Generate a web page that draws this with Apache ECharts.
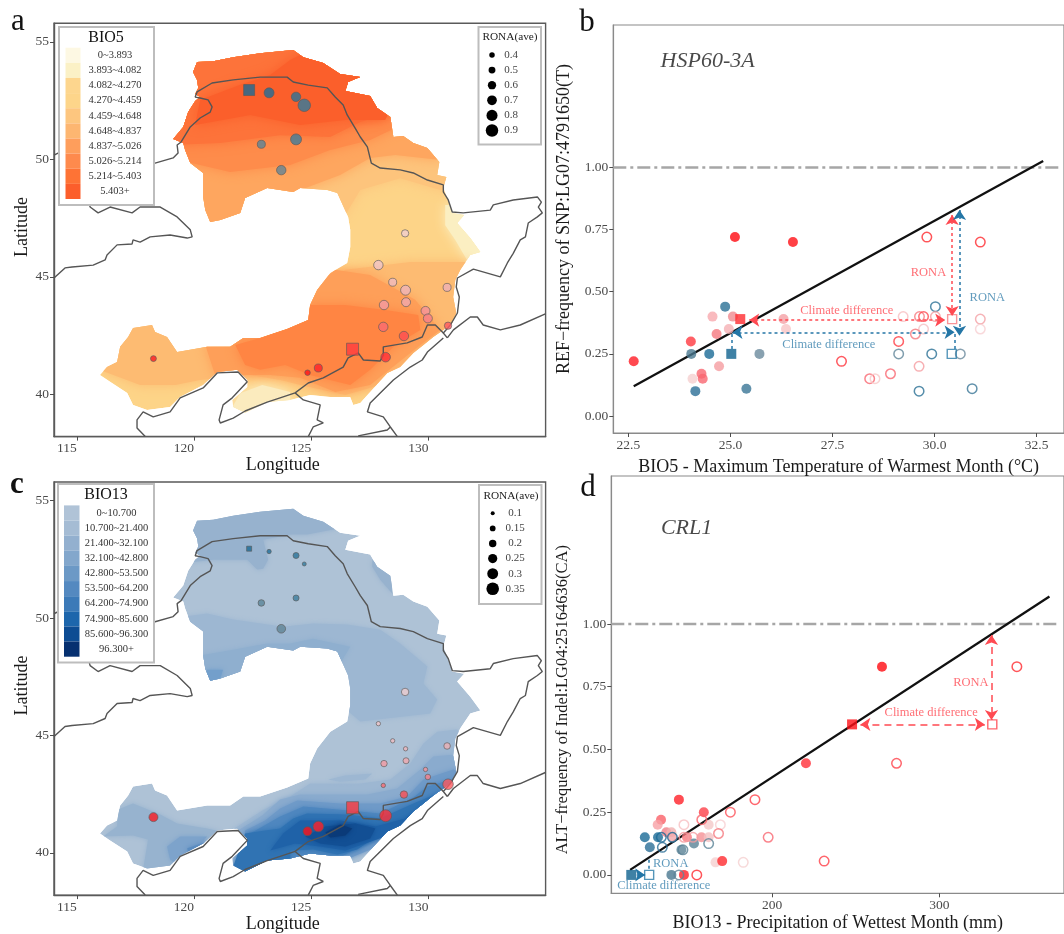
<!DOCTYPE html>
<html><head><meta charset="utf-8">
<style>html,body{margin:0;padding:0;background:#fff}#c{width:1064px;height:934px}</style>
<script src="https://cdn.jsdelivr.net/npm/echarts@6/dist/echarts.min.js"></script>
</head><body><div id="c"></div>
<script>
// ---------- MAP GEOMETRY (lon, lat) ----------
const regionOutline=[[120.13,54.14],[120.82,54.18],[121.67,54.35],[122.82,54.52],[124.23,54.65],[124.66,54.35],[125.51,54.10],[126.23,53.63],[127.09,53.50],[126.87,53.42],[126.57,53.29],[126.45,52.91],[127.51,52.70],[127.81,52.18],[128.37,51.80],[128.50,50.95],[128.92,50.99],[129.35,50.70],[129.95,50.48],[130.46,49.89],[130.37,49.33],[130.76,49.25],[130.63,48.78],[130.84,48.27],[131.01,47.72],[131.52,47.63],[131.22,47.29],[131.78,46.65],[132.21,46.06],[131.78,45.93],[131.35,45.29],[131.14,44.87],[131.05,44.14],[131.18,43.46],[131.01,43.04],[130.63,42.74],[130.20,42.44],[129.78,42.10],[129.35,41.76],[128.79,41.16],[128.24,40.91],[127.85,40.48],[127.09,39.63],[126.79,39.55],[126.66,39.89],[125.81,39.89],[124.95,39.97],[124.10,39.76],[123.12,39.67],[122.18,39.21],[121.67,39.46],[121.63,39.76],[122.27,40.31],[122.27,40.61],[121.84,41.04],[120.99,40.95],[120.39,40.40],[119.41,39.89],[118.98,39.46],[118.0,39.33],[117.40,39.55],[117.15,40.06],[116.42,40.53],[115.99,40.82],[116.29,41.16],[116.72,41.38],[116.85,42.02],[117.19,42.44],[117.40,42.82],[118.21,42.95],[118.34,42.65],[118.85,42.44],[119.28,41.80],[120.56,42.02],[121.54,42.02],[122.10,42.40],[122.82,42.40],[123.97,42.78],[124.87,43.16],[124.95,43.80],[125.25,44.44],[125.81,45.16],[126.53,45.59],[126.66,46.27],[126.66,47.0],[126.57,47.55],[126.11,48.57],[125.68,48.70],[124.53,48.78],[124.23,48.61],[123.12,48.78],[122.18,48.35],[121.97,47.72],[121.12,47.42],[120.69,47.33],[120.48,47.84],[120.39,48.40],[120.39,49.42],[119.84,49.84],[119.62,50.40],[119.54,50.70],[119.11,50.87],[119.54,51.38],[119.75,52.01],[120.05,52.48],[120.26,52.65],[120.05,52.78],[120.18,53.04],[120.13,53.38],[119.96,53.72]];
const borderNorth=[[114.03,50.18],[114.29,50.31],[115.99,50.06],[118.34,49.84],[119.11,50.06],[119.32,50.27],[119.28,50.61],[119.45,50.74],[119.84,51.38],[120.26,51.76],[120.69,52.01],[120.77,52.23],[120.60,52.53],[120.26,52.61],[120.05,52.65],[120.13,52.87],[120.77,53.25],[121.67,53.38],[122.82,53.50],[123.97,53.50],[124.23,53.29],[124.87,53.16],[125.68,53.04],[126.02,52.65],[126.36,52.31],[126.53,51.89],[126.87,51.33],[127.09,50.95],[127.39,50.53],[127.56,49.84],[127.94,49.63],[128.79,49.55],[129.35,49.42],[129.95,49.12],[130.63,48.91],[130.63,48.61],[130.84,48.27],[131.01,47.76],[131.48,47.72],[132.63,47.84],[132.76,48.06],[133.61,48.27],[134.64,48.40],[134.81,48.18],[134.68,47.97],[134.85,47.72],[134.64,47.55],[134.25,47.29],[134.13,46.70],[133.91,46.57],[133.61,46.0],[133.36,45.59],[133.06,45.0],[131.91,45.33],[131.23,44.95],[131.18,44.57],[131.31,44.14],[131.23,43.46],[130.93,42.95],[130.63,42.61],[130.80,42.40]];
const coastRussia=[[130.80,42.40],[131.06,42.74],[131.78,43.29],[132.08,43.29],[132.33,42.95],[133.06,42.74],[133.91,42.95],[134.98,43.42]];
const borderKorea=[[130.63,42.61],[130.29,42.95],[129.95,42.95],[129.73,42.44],[129.09,42.19],[128.07,42.02],[128.07,41.67],[127.94,41.42],[127.22,41.46],[127.0,41.76],[126.57,41.55],[126.36,41.16],[125.51,40.70],[124.87,40.48],[124.31,40.06]];
const coastBohai=[[124.31,40.06],[123.67,39.85],[123.12,39.67],[122.18,39.29],[121.67,38.99],[121.12,38.78],[121.07,38.91],[121.24,39.55],[121.63,39.85],[122.27,40.53],[121.88,40.95],[120.99,40.91],[120.39,40.27],[119.41,39.85],[118.98,39.25],[118.26,39.04],[117.83,39.25],[117.57,38.91],[117.57,38.57],[117.92,38.2]];
const coastKoreaEast=[[130.63,42.40],[129.95,41.80],[129.73,41.46],[129.22,41.16],[128.50,40.61],[127.94,40.06],[127.51,39.63],[127.39,39.25],[128.07,39.04],[128.37,38.61],[128.67,38.2]];
const coastKoreaWest=[[124.31,40.06],[124.66,39.76],[125.38,39.55],[125.25,38.91],[125.51,38.78],[125.08,38.61],[124.87,38.2]];
const borderKoreaSouth=[[127.0,38.23],[128.24,38.48],[128.37,38.61]];
const borderWest=[[115.4,48.6],[115.57,47.97],[115.91,47.72],[116.42,47.97],[117.36,47.72],[117.70,47.97],[118.56,47.97],[119.28,47.55],[119.84,47.0],[119.92,46.70],[119.71,46.65],[118.98,46.78],[118.13,46.70],[117.70,46.48],[117.40,46.57],[117.36,46.40],[116.72,46.36],[116.29,45.93],[116.21,45.72],[115.70,45.50],[114.80,45.42],[114.50,45.38],[114.03,44.95]];

// ---------- BIO5 BANDS ----------
const bio5Base=regionOutline;
const bio5NorthA=[[118.98,46.57],[122.82,46.57],[126.45,47.64],[127.09,48.7],[128.79,49.2],[130.5,48.7],[132.21,48.7],[132.21,55.93],[118.98,55.93]];
const bio5NorthB=[[118.98,46.57],[122.4,46.57],[124.53,48.7],[126.23,49.33],[127.51,50.06],[128.58,50.19],[130.5,49.97],[130.5,55.93],[118.98,55.93]];
const bio5NorthC=[[118.98,50.06],[121.54,49.46],[124.1,49.76],[125.81,50.4],[127.51,50.82],[128.58,51.33],[129.65,51.67],[129.65,55.93],[118.98,55.93]];
const bio5NorthD=[[118.98,50.61],[121.12,50.7],[123.67,51.03],[125.81,50.95],[127.09,51.59],[128.79,52.1],[128.79,55.93],[118.98,55.93]];
const bio5NorthE=[[120.05,51.46],[122.4,51.89],[124.53,51.46],[126.45,51.67],[128.15,51.67],[128.58,52.53],[126.66,53.8],[124.95,54.65],[124.1,54.23],[123.25,53.59],[121.97,53.17],[120.26,52.53]];
const bio5SouthA=[[115.57,43.16],[124.53,43.16],[124.95,44.44],[126.45,45.3],[129.22,45.63],[131.78,45.63],[131.78,44.02],[131.14,42.74],[129.65,41.89],[127.94,40.4],[126.45,39.97],[124.53,40.4],[123.67,40.61],[122.4,40.82],[120.26,40.61],[119.2,40.4],[117.7,40.4],[115.99,41.04]];
const bio5SouthB=[[120.48,42.1],[124.74,43.16],[124.95,44.44],[126.02,45.3],[127.51,45.08],[129.43,44.02],[130.5,42.74],[129.65,42.1],[128.58,41.25],[127.51,40.4],[126.02,40.1],[124.53,40.7],[123.25,40.82],[122.18,40.82],[120.9,40.82]];
const bio5SouthC=[[121.76,42.1],[122.82,42.4],[124.74,43.16],[124.95,43.8],[126.45,43.8],[128.15,43.59],[129.56,43.38],[129.65,42.74],[128.58,42.1],[127.51,41.04],[126.66,40.4],[124.95,40.82],[123.89,41.25],[122.82,41.04],[122.18,41.25]];
const bio5PaleNE=[[130.71,48.06],[132.63,48.06],[132.63,45.5],[131.69,45.63],[131.14,46.57],[130.71,47.2]];
const bio5PaleS=[[121.33,38.91],[121.97,40.05],[122.91,40.4],[124.1,40.1],[124.1,38.91]];
const bio5Zones=[[bio5Base,'#FDD488'],[bio5NorthA,'#FDC47C'],[bio5NorthB,'#FEA65F'],[bio5NorthC,'#FE8C4B'],[bio5NorthD,'#FD733A'],[bio5NorthE,'#FB5F2B'],[bio5PaleNE,'#FBEFC2'],[bio5SouthA,'#FDBB72'],[bio5SouthB,'#FE9F59'],[bio5SouthC,'#FF8543'],[bio5PaleS,'#FBEBBE']];

// ---------- BIO13 BANDS ----------
const bio13North=[[118.77,51.04],[119.41,52.32],[120.82,52.48],[122.27,52.48],[122.69,52.06],[122.95,52.1],[123.16,52.48],[122.95,53.33],[124.1,53.55],[124.82,53.55],[126.11,53.8],[126.53,55.08],[118.77,55.08]];
const bio13East=[[127.6,52.48],[128.45,51.76],[128.45,51.04],[127.94,51.63],[127.6,52.18]];
const bio13Mid=[[118.98,49.76],[119.62,50.06],[120.56,50.19],[121.67,49.93],[123.8,49.63],[125.08,49.76],[126.53,49.72],[127.94,49.5],[128.79,48.91],[129.95,47.93],[129.78,47.21],[130.37,46.53],[130.07,45.93],[127.09,45.59],[126.45,46.14],[126.45,46.78],[118.98,46.78]];
const bio13Mid2=[[120.26,48.4],[121.67,48.65],[123.12,48.91],[124.1,48.91],[125.08,49.12],[126.66,48.78],[126.23,48.06],[124.53,48.27],[122.4,48.27],[121.97,46.99],[120.26,46.99]];
const bio13Lobe=[[120.56,47.8],[121.24,47.8],[121.12,47.42],[120.69,47.21],[120.26,47.21]];
const bio13W1=[[116.76,41.85],[117.4,42.1],[118.56,41.63],[119.28,41.25],[120.56,41.04],[121.12,40.91],[118.98,39.3],[117.83,39.3],[118.04,40.57],[117.4,40.74],[116.12,40.7],[116.72,41.12]];
const bio13W2=[[118.85,40.27],[119.41,40.7],[120.56,40.7],[119.41,39.42],[118.98,39.72]];
const bio13W3=[[119.71,40.19],[120.56,40.48],[120.9,40.48],[119.84,39.67]];
const bio13C1=[[121.67,41.0],[122.91,41.8],[124.1,42.4],[124.95,42.95],[127.09,42.95],[128.37,43.12],[129.22,43.8],[129.78,44.65],[130.37,45.16],[131.22,45.25],[131.78,44.44],[131.78,42.1],[124.53,38.91],[121.67,38.91]];
const bio13C2=[[121.88,40.95],[122.91,41.59],[123.67,42.27],[124.53,42.48],[125.51,42.48],[127.39,42.48],[128.66,42.74],[129.65,43.55],[130.2,44.1],[131.01,44.18],[131.78,43.59],[131.78,42.1],[124.53,38.91],[121.88,38.91]];
const bio13C3=[[122.18,40.95],[123.03,41.38],[123.67,41.89],[124.4,42.23],[126.23,42.1],[127.94,42.1],[129.09,42.4],[129.78,43.12],[131.06,43.55],[131.78,43.16],[131.78,41.89],[124.53,38.91],[122.18,38.91]];
const bio13C4=[[122.4,40.82],[123.67,41.55],[124.66,41.97],[126.11,41.85],[127.94,41.67],[129.35,42.36],[129.95,42.82],[131.14,43.16],[131.78,42.74],[124.53,38.91],[122.4,38.91]];
const bio13C5=[[121.33,38.48],[122.18,40.82],[123.03,40.95],[123.67,41.04],[124.23,41.46],[124.82,41.67],[126.53,41.63],[127.94,41.46],[129.35,42.1],[130.37,42.53],[130.93,42.69],[130.5,42.1],[128.79,41.12],[127.94,40.82],[126.96,40.14],[126.11,39.93],[125.08,40.14],[124.1,40.1],[124.1,38.48]];
const bio13C6=[[123.25,40.1],[123.8,40.82],[124.53,41.38],[126.23,41.38],[127.73,41.12],[129.0,41.46],[130.07,42.23],[130.71,42.61],[129.65,41.46],[128.15,40.7],[126.45,40.1],[125.38,40.27],[124.31,40.4]];
const bio13C7=[[124.74,40.7],[125.6,41.12],[126.87,41.25],[127.73,41.04],[127.51,40.61],[126.45,40.27],[125.38,40.4]];
const bio13C8=[[125.6,40.87],[126.23,41.21],[126.75,41.04],[126.45,40.74],[125.81,40.65]];
const bio13Patch=[[125.72,43.12],[126.45,43.29],[127.6,43.38],[127.3,43.12],[126.23,43.03]];
const bio13Zones=[[regionOutline,'#AEC2D6'],[bio13North,'#97B2CE'],[bio13East,'#97B2CE'],[bio13Mid,'#9DB7D2'],[bio13Mid2,'#8FAFCF'],[bio13Lobe,'#739FCB'],[bio13W1,'#97B3CF'],[bio13W2,'#7DA3CB'],[bio13W3,'#5B8CC0'],[bio13C1,'#9DB7D2'],[bio13C2,'#8AABCE'],[bio13C3,'#6F9AC8'],[bio13C4,'#4F87BF'],[bio13C5,'#3073B3'],[bio13C6,'#1F62A8'],[bio13C7,'#124F94'],[bio13C8,'#0A3A78'],[bio13Patch,'#9DB7D2']];

// ---------- SITES ----------
const siteLon=[123.2,124.35,124.7,124.35,122.87,123.72,129.0,127.86,128.47,129.02,129.04,128.1,130.79,129.87,129.97,128.07,130.83,128.95,128.17,125.3,124.84,118.27];
const siteLat=[52.83,52.66,52.3,50.85,50.64,49.54,46.85,45.5,44.77,44.43,43.92,43.8,44.55,43.55,43.23,42.87,42.92,42.48,41.58,41.12,40.92,41.52];
const siteColor=['#1E6D99','#2A7399','#327A9E','#3D7D9C','#5A8498','#628496','#F0CDD0','#F0C4C8','#EFBBC0','#EEB4BA','#F0A8AE','#F39AA2','#EEB0B5','#F5929A','#F8808A','#FA6A72','#FC5A60','#FC4E52','#FE3038','#FF2028','#FF1018','#FB1A20'];
const siteRonaBio5=[.72,.68,.9,.79,.58,.68,.53,.68,.58,.72,.65,.68,.58,.65,.65,.68,.53,.68,.69,.58,.4,.43];
const siteRonaBio13=[.11,.16,.10,.16,.175,.235,.2,.11,.11,.11,.16,.17,.175,.11,.145,.11,.29,.2,.33,.29,.245,.245];
const squareLon=[122.35,126.76];
const squareLat=[52.95,41.92];
const squareColor=['#1A6A96','#FF3B3F'];
const squareSizeBio5=[11,12];
const squareSizeBio13=[5,12];

// ---------- PANEL b ----------
const bFilledX=[25.11,26.53,22.63,24.03,24.87,24.56,25.06,26.3,26.36,24.96,24.66,24.04,24.48,25.71,24.72,24.29,24.32,24.07,24.14,25.39];
const bFilledY=[.72,.70,.22,.30,.44,.40,.40,.39,.35,.35,.33,.25,.25,.25,.20,.17,.15,.15,.10,.11];
const bFilledColor=['#FF0A10','#FF1016','#FF1C24','#FF3840','#2A7095','#F8A9AE','#F08A90','#F4A0A5','#F8C4C6','#F5B0B4','#F5787E','#4A7890','#1A6A96','#6A8A9C','#F59CA0','#F96670','#F96670','#F5D0D0','#2A6E96','#3A7596'];
const bOpenX=[29.81,31.12,30.02,29.23,29.63,29.73,30.02,31.12,31.12,29.73,29.53,29.12,29.12,29.93,30.63,27.72,29.62,28.92,28.41,28.54,29.62,30.92];
const bOpenY=[.72,.70,.44,.40,.40,.40,.40,.39,.35,.35,.33,.30,.25,.25,.25,.22,.20,.17,.15,.15,.10,.11];
const bOpenColor=['#FF2A30','#FF2A30','#2A7095','#F8BFC2','#F87A80','#FF4A50','#F59CA0','#F4A0A5','#F8D0D2','#F5C0C4','#F5787E','#FF3840','#5F8499','#2A7095','#6A8A9C','#FF3038','#F59CA0','#F96670','#F96670','#F8C8C8','#2A7095','#3A7596'];
const bSquareFilled=[[25.24,.39,'#FF2A30'],[25.02,.25,'#0F628F']];
const bSquareOpen=[[30.43,.39,'#F87A80'],[30.42,.25,'#2A7CA8']];
const bFitX=[22.63,32.66];
const bFitY=[.12,1.026];
// ---------- PANEL d ----------
const dFilledX=[139.7,147.2,144.2,159.1,133.5,131.5,162,136.7,139.7,123.8,131.7,140.3,149,157.7,162,126.8,145.7,153.2,166.1,170.1,220.2,265.7];
const dFilledY=[0,0,.30,.25,.22,.20,.20,.17,.17,.15,.15,.15,.15,.15,.15,.11,.10,.125,.05,.055,.445,.83];
const dFilledColor=['#4A7890','#FF2028','#FF2028','#FD4048','#FA6068','#F7A0A5','#F4C8C8','#F08088','#F0B0B0','#1A6A96','#1A6A96','#F3A7AB','#F8787E','#F59095','#F2C0C2','#2A6E96','#5A8296','#5A8296','#F5D0D0','#FF2A30','#FF3038','#FF0A10'];
const dOpenX=[346.4,274.4,231.1,197.6,189.7,175,157.9,147.2,169,167.9,147.2,152.6,133.7,140.3,162,134.3,146.6,182.7,154.9,144.2];
const dOpenY=[.83,.445,.055,.15,.30,.25,.22,.20,.20,.165,.15,.15,.15,.15,.125,.11,.10,.05,0,0];
const dOpenColor=['#FF2A30','#FF4048','#FF4048','#F96670','#FF4048','#FD5058','#FA6068','#F8BFC2','#F8D0D2','#F5787E','#F59CA0','#F59CA0','#1A6A96','#1A6A96','#5A8296','#2A6E96','#5A8296','#F5D0D0','#FF2A30','#5F8499'];
const dSquareFilled=[[247.8,.60,'#FF1018'],[115.7,0,'#0F628F']];
const dSquareOpen=[[331.7,.60,'#FF4048'],[126.4,0,'#2A7CA8']];
const dFitX=[115,365.9];
const dFitY=[.02,1.11];

// ---------- LEGENDS / TICKS ----------
const lonTicks=[115,120,125,130];
const latTicks=[40,45,50,55];
const freqTicks=[0,.25,.5,.75,1];
const bXTicks=[22.5,25,27.5,30,32.5];
const dXTicks=[200,300];
const bio5Labels=['0~3.893','3.893~4.082','4.082~4.270','4.270~4.459','4.459~4.648','4.648~4.837','4.837~5.026','5.026~5.214','5.214~5.403','5.403+'];
const bio5Colors=['#FDF8E3','#FBF1C6','#FDD68E','#FDD58A','#FDC67F','#FDB671','#FE9E5C','#FE8A4D','#FE7335','#FC5E2B'];
const bio13Labels=['0~10.700','10.700~21.400','21.400~32.100','32.100~42.800','42.800~53.500','53.500~64.200','64.200~74.900','74.900~85.600','85.600~96.300','96.300+'];
const bio13Colors=['#B0C3D7','#A5BCD4','#93B0CF','#83A7CC','#6C99C6','#5489C0','#3C7AB8','#1D66AC','#0D4C93','#063070'];
const ronaBio5=[.4,.5,.6,.7,.8,.9];
const ronaBio13=[.1,.15,.2,.25,.3,.35];

const RED='#FF4A52',BLUE='#2476A6',SERIF='"Liberation Serif","Times New Roman",serif';
const dBio5=v=>5.5+(v-.4)*14, dBio13=v=>4+(v-.1)*34.4;

function axisBase(ticks,min,max,name,extra){
  return Object.assign({type:'value',min,max,name,nameLocation:'middle',
    nameTextStyle:{fontFamily:SERIF,fontSize:18,color:'#1a1a1a'},
    axisLine:{show:true,onZero:false,lineStyle:{color:'#5a5a5a',width:1.4}},
    axisTick:{show:true,length:4,customValues:ticks,lineStyle:{color:'#4d4d4d',width:1}},
    axisLabel:{customValues:ticks,fontFamily:SERIF,fontSize:13.5,color:'#4a4a4a',margin:5},
    splitLine:{show:false}},extra||{});
}
const grids=[
 {left:54,top:23.3,width:491.6,height:413.3,show:true,borderColor:'#5a5a5a',borderWidth:1.4},
 {left:613.3,top:25,width:453,height:408,show:true,borderColor:'#8a8a8a',borderWidth:1.2},
 {left:54,top:482,width:491.6,height:413.7,show:true,borderColor:'#5a5a5a',borderWidth:1.4},
 {left:611.3,top:476,width:455,height:417.3,show:true,borderColor:'#8a8a8a',borderWidth:1.2}
];
const xAxes=[
 axisBase(lonTicks,114.03,134.99,'Longitude',{gridIndex:0,nameGap:19}),
 axisBase(bXTicks,22.13,33.17,'BIO5 - Maximum Temperature of Warmest Month (°C)',{gridIndex:1,nameGap:25}),
 axisBase(lonTicks,114.03,134.99,'Longitude',{gridIndex:2,nameGap:19}),
 axisBase(dXTicks,103.75,374.6,'BIO13 - Precipitation of Wettest Month (mm)',{gridIndex:3,nameGap:21})
];
xAxes[0].axisLabel.align='right';
xAxes[2].axisLabel.align='right';
xAxes[0].nameTextStyle.padding=[0,34,0,0];
xAxes[2].nameTextStyle.padding=[0,34,0,0];
xAxes[1].axisLabel.formatter=v=>v.toFixed(1);
const yAxes=[
 axisBase(latTicks,38.2,55.79,'Latitude',{gridIndex:0,nameGap:20}),
 axisBase(freqTicks,-.0684,1.5734,'REF−frequency of SNP:LG07:4791650(T)',{gridIndex:1,nameGap:40}),
 axisBase(latTicks,38.2,55.79,'Latitude',{gridIndex:2,nameGap:20}),
 axisBase(freqTicks,-.0733,1.59,'ALT−frequency of Indel:LG04:25164636(CA)',{gridIndex:3,nameGap:40})
];
yAxes[0].nameTextStyle.padding=[0,0,0,6];
yAxes[2].nameTextStyle.padding=[0,0,0,6];
yAxes[1].axisLabel.formatter=v=>v.toFixed(2);
yAxes[3].axisLabel.formatter=v=>v.toFixed(2);
yAxes[1].nameTextStyle.padding=[0,0,0,20];
yAxes[3].nameTextStyle.padding=[0,30,0,0];
yAxes[3].nameTextStyle.fontSize=16.5;
[xAxes[1],yAxes[1],xAxes[3],yAxes[3]].forEach(a=>{a.axisLine.lineStyle.color='#8a8a8a';a.axisLine.lineStyle.width=1.2;});

function mapFill(i,zones,blur){
  return {type:'custom',xAxisIndex:i,yAxisIndex:i,silent:true,z:1,clip:true,data:[regionOutline[0]],
    renderItem:(p,api)=>({type:'group',
      clipPath:{type:'polygon',shape:{points:regionOutline.map(c=>api.coord(c))}},
      children:zones.map((z,k)=>({type:'polygon',shape:{points:z[0].map(c=>api.coord(c))},
        style:{fill:z[1],shadowBlur:k?blur:0,shadowColor:z[1]}}))})};
}
function polyline(i,d,color,width){
  return {type:'line',xAxisIndex:i,yAxisIndex:i,data:d,showSymbol:false,symbol:'none',silent:true,z:2,clip:true,
    lineStyle:{color:color||'#555',width:width||1.4},animation:false};
}
function sites(i,ronaArr,size){
  const s=siteLon.map((lon,k)=>({value:[lon,siteLat[k],ronaArr[k]],symbolSize:size(ronaArr[k]),
     itemStyle:{color:siteColor[k],borderColor:'#5a5a5a',borderWidth:.8}}));
  return {type:'scatter',xAxisIndex:i,yAxisIndex:i,data:s,z:3,silent:true};
}
function squares(i,sizes){
  return {type:'scatter',xAxisIndex:i,yAxisIndex:i,symbol:'rect',z:3,silent:true,
    data:squareLon.map((lon,k)=>({value:[lon,squareLat[k]],symbolSize:sizes[k],
      itemStyle:{color:squareColor[k],borderColor:'#5a5a5a',borderWidth:.8}}))};
}
function filled(i,xs,ys,cs){
  return {type:'scatter',xAxisIndex:i,yAxisIndex:i,z:3,silent:true,symbolSize:10,
    data:xs.map((x,k)=>({value:[x,ys[k]],itemStyle:{color:cs[k]}}))};
}
function open(i,xs,ys,cs){
  return {type:'scatter',xAxisIndex:i,yAxisIndex:i,z:3,silent:true,symbolSize:9.5,
    data:xs.map((x,k)=>({value:[x,ys[k]],itemStyle:{color:'rgba(255,255,255,0)',borderColor:cs[k],borderWidth:1.5}}))};
}
function sqFilled(i,d){
  return {type:'scatter',xAxisIndex:i,yAxisIndex:i,z:4,silent:true,symbol:'rect',symbolSize:10,
    data:d.map(r=>({value:[r[0],r[1]],itemStyle:{color:r[2]}}))};
}
function sqOpen(i,d){
  return {type:'scatter',xAxisIndex:i,yAxisIndex:i,z:4,silent:true,symbol:'rect',symbolSize:9,
    data:d.map(r=>({value:[r[0],r[1]],itemStyle:{color:'rgba(255,255,255,0)',borderColor:r[2],borderWidth:1.4}}))};
}
function arrow(i,from,to,color,dash,sym){
  return {type:'lines',coordinateSystem:'cartesian2d',xAxisIndex:i,yAxisIndex:i,z:5,silent:true,
    symbol:sym||['arrow','arrow'],symbolSize:10,
    lineStyle:{color,width:1.5,type:dash,opacity:1},
    data:[{coords:[from,to]}]};
}
function note(i,x,y,text,color,font){
  return {type:'scatter',xAxisIndex:i,yAxisIndex:i,z:6,silent:true,symbolSize:0,data:[[x,y]],
    label:{show:true,position:'inside',formatter:text,color,fontFamily:SERIF,fontSize:font||12.5,
      fontStyle:font&&font>20?'italic':'normal'}};
}
function fit(i,xs,ys){return polyline(i,[[xs[0],ys[0]],[xs[1],ys[1]]],'#111',2.3);}
function refLine(i,x0,x1){
  const s=polyline(i,[[x0,1],[x1,1]],'#A6A6A6',2.6);
  s.lineStyle.type=[13,4,3,4];return s;
}
const borders=[borderNorth,coastRussia,borderKorea,coastBohai,coastKoreaEast,coastKoreaWest,borderKoreaSouth,borderWest];
const dotted=[3,3],longDash=[7,5];
const series=[
 mapFill(0,bio5Zones,12),...borders.map(b=>polyline(0,b)),sites(0,siteRonaBio5,dBio5),squares(0,squareSizeBio5),
 mapFill(2,bio13Zones,5),...borders.map(b=>polyline(2,b)),sites(2,siteRonaBio13,dBio13),squares(2,squareSizeBio13),
 refLine(1,22.13,33.05),fit(1,bFitX,bFitY),
 filled(1,bFilledX,bFilledY,bFilledColor),open(1,bOpenX,bOpenY,bOpenColor),sqFilled(1,bSquareFilled),sqOpen(1,bSquareOpen),
 arrow(1,[25.46,.386],[30.26,.386],RED,dotted),arrow(1,[30.43,.809],[30.43,.402],RED,dotted),
 arrow(1,[25.05,.337],[30.49,.337],BLUE,dotted),arrow(1,[30.61,.829],[30.61,.323],BLUE,dotted),
 arrow(1,[25.02,.33],[25.02,.27],BLUE,dotted,['none','none']),arrow(1,[30.5,.33],[30.5,.27],BLUE,dotted,['none','none']),
 note(1,27.85,.424,'Climate difference',RED),note(1,29.85,.575,'RONA',RED),note(1,31.29,.475,'RONA','#3A82AC'),note(1,27.41,.286,'Climate difference','#3A82AC'),
 note(1,24.44,1.429,'HSP60-3A','#1a1a1a',22),
 refLine(3,103.75,371.4),fit(3,dFitX,dFitY),
 filled(3,dFilledX,dFilledY,dFilledColor),open(3,dOpenX,dOpenY,dOpenColor),sqFilled(3,dSquareFilled),sqOpen(3,dSquareOpen),
 arrow(3,[252.8,.60],[327.2,.60],RED,longDash),arrow(3,[331.2,.956],[331.2,.617],RED,longDash),
 arrow(3,[119,0],[124,0],BLUE,'solid',['none','arrow']),arrow(3,[126.4,.06],[126.4,.015],BLUE,dotted,['none','none']),
 note(3,295.1,.647,'Climate difference',RED),note(3,318.9,.765,'RONA',RED),note(3,139.3,.044,'RONA','#3A82AC'),note(3,135.1,-.043,'Climate difference','#3A82AC'),
 note(3,148.8,1.382,'CRL1','#1a1a1a',22)
];
series.forEach(s=>{s.animation=false;});

// ---------- GRAPHIC LEGENDS ----------
function T(text,x,y,size,color,weight){
  return {type:'text',silent:true,z:100,style:{text,x,y,fill:color||'#333',font:(weight?weight+' ':'')+size+'px '+SERIF,textAlign:'center',textVerticalAlign:'middle',verticalAlign:'middle'}};
}
function box(x,y,w,h){return {type:'rect',silent:true,z:99,shape:{x,y,width:w,height:h},style:{fill:'#fff',stroke:'#BDBDBD',lineWidth:2}};}
function colorLegend(bx,by,bw,bh,title,tx,ty,sx,sw,sy,labels,colors,lx){
  const g=[box(bx,by,bw,bh),T(title,tx,ty,16,'#111')];
  const sh=15.13;
  colors.forEach((c,k)=>{
    g.push({type:'rect',silent:true,z:100,shape:{x:sx,y:sy+k*sh,width:sw,height:sh},style:{fill:c}});
    g.push(T(labels[k],lx,sy+(k+.5)*sh,10.5,'#333'));
  });
  return g;
}
function sizeLegend(bx,by,bw,bh,tx,ty,dx,lx,y0,vals,size){
  const g=[box(bx,by,bw,bh),T('RONA(ave)',tx,ty,11.3,'#222')];
  vals.forEach((v,k)=>{
    const y=y0+k*15.1;
    g.push({type:'circle',silent:true,z:100,shape:{cx:dx,cy:y,r:size(v)/2},style:{fill:'#000'}});
    g.push(T(String(v),lx,y,11,'#444'));
  });
  return g;
}
const graphic=[
 ...colorLegend(59,27,95,178,'BIO5',106,38,65.5,15,47.7,bio5Labels,bio5Colors,115),
 ...sizeLegend(478.5,27,62.5,117.5,510,37,492,511,55,ronaBio5,dBio5),
 ...colorLegend(58,484,96,178.5,'BIO13',106,495,64,15.5,505.4,bio13Labels,bio13Colors,116.5),
 ...sizeLegend(479,485,62.5,119,511,496,492.7,515,513.3,ronaBio13,dBio13),
 T('a',18,22,31,'#111'),T('b',587,23,31,'#111'),T('c',17,485,31,'#111','bold'),T('d',588,488,31,'#111')
];
const chart=echarts.init(document.getElementById('c'),null,{renderer:'canvas'});
chart.setOption({animation:false,backgroundColor:'#fff',textStyle:{fontFamily:SERIF},grid:grids,xAxis:xAxes,yAxis:yAxes,series,graphic:{elements:graphic}});
</script></body></html>
